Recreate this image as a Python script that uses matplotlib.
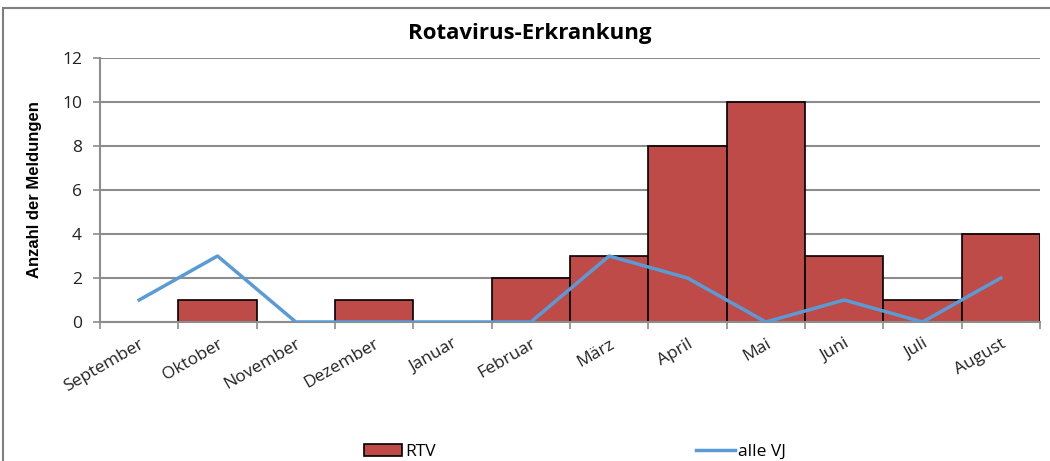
import numpy as np
import matplotlib
matplotlib.use("Agg")
import matplotlib.pyplot as plt
from matplotlib.patches import Rectangle

months = ["September", "Oktober", "November", "Dezember", "Januar", "Februar",
          "März", "April", "Mai", "Juni", "Juli", "August"]
rtv = [0, 1, 0, 1, 0, 2, 3, 8, 10, 3, 1, 4]
alle_vj = [1, 3, 0, 0, 0, 0, 3, 2, 0, 1, 0, 2]

bar_color = "#BE4B48"
line_color = "#5B9BD5"
grid_color = "#8C8C8C"

fig = plt.figure(figsize=(10.5, 4.61), dpi=100)
ax = fig.add_axes([100/1050, 1-322/461, 940/1050, 264/461])

x = np.arange(len(months))
bars = ax.bar(x, rtv, width=1.0, color=bar_color, edgecolor="black", linewidth=1.2,
              label="RTV", zorder=2)
line, = ax.plot(x, alle_vj, color=line_color, linewidth=2.5, label="alle VJ", zorder=3)

ax.set_xlim(-0.5, 11.5)
ax.set_ylim(0, 12)
ax.set_yticks(range(0, 13, 2))
ax.yaxis.grid(True, color=grid_color, linewidth=1.5, zorder=0)
ax.set_axisbelow(True)

for s in ["top", "right"]:
    ax.spines[s].set_visible(False)
for s in ["left", "bottom"]:
    ax.spines[s].set_color(grid_color)
    ax.spines[s].set_linewidth(1.5)

ax.set_xticks(x)
ax.set_xticklabels(months, rotation=30, ha="right", rotation_mode="anchor",
                   family="Open Sans", fontsize=12.5, color="#222222")
ax.set_xticks(np.arange(-0.5, 12, 1), minor=True)
ax.tick_params(axis="x", which="major", length=0, pad=10)
ax.tick_params(axis="x", which="minor", length=5, color=grid_color, width=1.2)
ax.tick_params(axis="y", length=5, color=grid_color, width=1.2, pad=8)
for t in ax.get_yticklabels():
    t.set_family("Open Sans")
    t.set_fontsize(12.5)
    t.set_color("#222222")

ax.set_ylabel("Anzahl der Meldungen", family="Liberation Sans", fontweight="bold",
              fontsize=12, labelpad=14)

fig.text(530/1050, 1-33/461, "Rotavirus-Erkrankung", ha="center", va="center",
         family="Open Sans", fontweight="bold", fontsize=16)

fig.patches.append(Rectangle((3/1050, -0.2), 1.2, 1-8/461+0.2,
                             transform=fig.transFigure, fill=False,
                             edgecolor="#7F7F7F", linewidth=1.5))

leg = fig.legend([bars, line], ["RTV", "alle VJ"], loc="upper left",
                 bbox_to_anchor=(348/1050, 1-428/461), ncol=2,
                 frameon=False, prop={"family": "Open Sans", "size": 12.5},
                 handlelength=2.2, handletextpad=0.2, columnspacing=15)

fig.savefig("out.png", dpi=100)
